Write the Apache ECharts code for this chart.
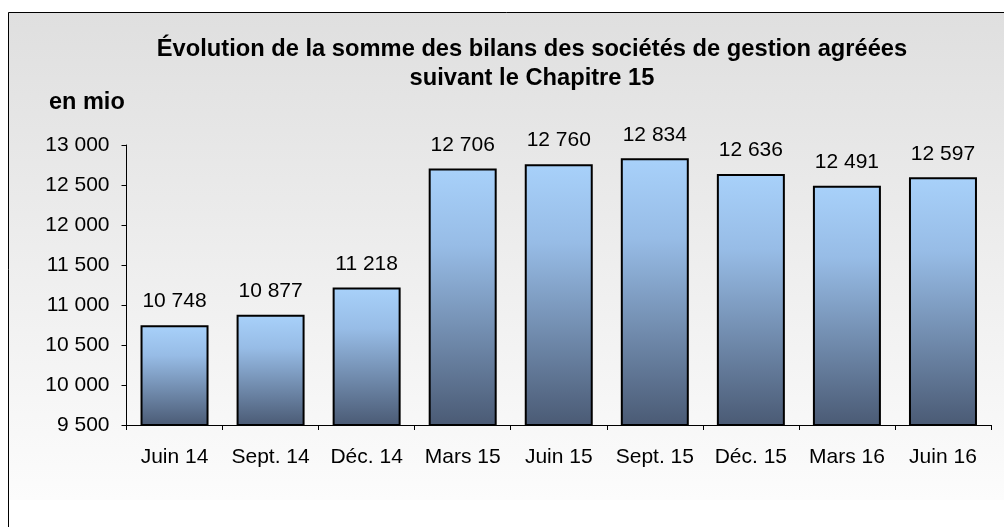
<!DOCTYPE html>
<html>
<head>
<meta charset="utf-8">
<script src="https://cdn.jsdelivr.net/npm/echarts@6/dist/echarts.min.js"></script>
<style>
  html, body { margin: 0; padding: 0; background: #fff; }
  #chart { width: 1004px; height: 527px; }
</style>
</head>
<body>
<div id="chart"></div>
<script>
const periods = ['Juin 14', 'Sept. 14', 'Déc. 14', 'Mars 15', 'Juin 15', 'Sept. 15', 'Déc. 15', 'Mars 16', 'Juin 16'];
const bilans = [10748, 10877, 11218, 12706, 12760, 12834, 12636, 12491, 12597];

const fmt = v => String(v).replace(/\B(?=(\d{3})+(?!\d))/g, ' ');
const font = '"Liberation Sans", Arial, sans-serif';

const chart = echarts.init(document.getElementById('chart'), null, { renderer: 'canvas' });

const option = {
    animation: false,
    textStyle: { fontFamily: font },
    graphic: [
        {
            type: 'rect', z: -10, silent: true,
            shape: { x: 8, y: 12, width: 1000, height: 488 },
            style: {
                fill: new echarts.graphic.LinearGradient(0, 0, 0, 1, [
                    { offset: 0, color: '#dfdfdf' },
                    { offset: 1, color: '#fcfcfc' }
                ])
            }
        },
        { type: 'line', z: -5, silent: true, shape: { x1: 8.5, y1: 12.5, x2: 1004, y2: 12.5 }, style: { stroke: '#000', lineWidth: 1 } },
        { type: 'line', z: -5, silent: true, shape: { x1: 8.5, y1: 12.5, x2: 8.5, y2: 527 }, style: { stroke: '#000', lineWidth: 1 } },
        {
            type: 'text', left: 49, top: 91,
            style: { text: 'en mio', font: 'bold 23.5px ' + font, fill: '#000' }
        }
    ],
    title: {
        text: 'Évolution de la somme des bilans des sociétés de gestion agréées\nsuivant le Chapitre 15',
        left: 527, top: 30, textAlign: 'center',
        textStyle: { fontFamily: font, fontSize: 23.7, fontWeight: 'bold', color: '#000', lineHeight: 29 }
    },
    grid: { left: 126.5, right: 13, top: 145, bottom: 102 },
    xAxis: {
        type: 'category',
        data: periods,
        axisLine: { lineStyle: { color: '#000', width: 1 } },
        axisTick: { show: true, length: 5, lineStyle: { color: '#000' } },
        axisLabel: { color: '#000', fontSize: 21, margin: 22, fontFamily: font, interval: 0 }
    },
    yAxis: {
        type: 'value',
        min: 9500, max: 13000, interval: 500,
        axisLine: { show: true, lineStyle: { color: '#000', width: 1 } },
        axisTick: { show: true, length: 5, lineStyle: { color: '#000' } },
        splitLine: { show: false },
        axisLabel: { color: '#000', fontSize: 21, margin: 17, fontFamily: font, formatter: fmt }
    },
    series: [{
        type: 'bar',
        data: bilans,
        barWidth: 68,
        itemStyle: {
            borderColor: '#000',
            borderWidth: 2,
            color: new echarts.graphic.LinearGradient(0, 0, 0, 1, [
                { offset: 0, color: '#a8d1fa' },
                { offset: 0.3, color: '#97bce6' },
                { offset: 1, color: '#4a5a74' }
            ])
        },
        label: {
            show: true, position: 'top', distance: 13,
            color: '#000', fontSize: 21, fontFamily: font,
            formatter: p => fmt(p.value)
        }
    }]
};

chart.setOption(option);
window.addEventListener('resize', chart.resize);
</script>
</body>
</html>
